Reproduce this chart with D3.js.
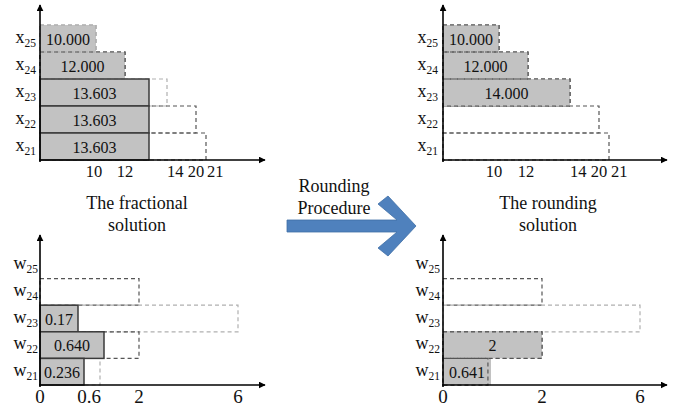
<!DOCTYPE html>
<html lang="en">
<head>
  <meta charset="UTF-8">
  <title>Rounding procedure</title>
  <script src="https://cdnjs.cloudflare.com/ajax/libs/d3/7.8.5/d3.min.js"></script>
  <style>
    body { margin: 0; background: #fff; }
    svg text { font-family: "Liberation Serif", "Times New Roman", serif; fill: #111; }
  </style>
</head>
<body>
  <script>
    // x rows (top panels)
    const xRows = ['25', '24', '23', '22', '21'];
    const xBounds = [10, 12, 14, 20, 21];
    const xFrac = [10, 12, 13.603, 13.603, 13.603];
    const xFracLabels = ['10.000', '12.000', '13.603', '13.603', '13.603'];
    const xRound = [10, 12, 14, 0, 0];
    const xRoundLabels = ['10.000', '12.000', '14.000', '', ''];
    const xTicks = [10, 12, 14, 20, 21];

    // w rows (bottom panels)
    const wRows = ['25', '24', '23', '22', '21'];
    const wBounds = [0, 2, 6, 2, 0.6];
    const wFrac = [0, 0, 0.17, 0.640, 0.236];
    const wFracLabels = ['', '', '0.17', '0.640', '0.236'];
    const wRound = [0, 0, 0, 2, 0.641];
    const wRoundLabels = ['', '', '', '2', '0.641'];
    const wTicks = [0, 0.6, 2, 6];

    const titles = [['The fractional', 'solution'], ['The rounding', 'solution']];
    const middleText = ['Rounding', 'Procedure'];

    const width = 682, height = 409;
    const svg = d3.select('body').append('svg')
      .attr('width', width)
      .attr('height', height);

    const defs = svg.append('defs');
    defs.append('marker')
      .attr('id', 'tip')
      .attr('viewBox', '0 0 10 10')
      .attr('refX', 9).attr('refY', 5)
      .attr('markerWidth', 7).attr('markerHeight', 7)
      .attr('markerUnits', 'userSpaceOnUse')
      .attr('orient', 'auto')
      .append('path').attr('d', 'M0,0 L10,5 L0,10 z').attr('fill', '#000');

    const fillGray = '#c2c2c2';

    // the diagram is schematic, so the value axes are piecewise
    const xScaleTop = d3.scaleLinear()
      .domain([0, 10, 12, 13.603, 14, 20, 21])
      .range([0, 56, 85, 109, 127, 156, 166]);
    const wScaleLeft = d3.scaleLinear()
      .domain([0, 0.17, 0.236, 0.6, 0.64, 2, 6])
      .range([0, 38, 44, 60, 64, 99, 198]);
    const wScaleRight = d3.scaleLinear()
      .domain([0, 0.641, 2, 6])
      .range([0, 48, 99, 197]);

    function drawPanel(opt) {
      const g = svg.append('g').attr('transform', `translate(${opt.x0},0)`);
      const x = opt.scale;
      const y = d3.scaleBand().domain(opt.rows).range(opt.yRange);

      // dashed bound boxes
      g.selectAll('rect.bound')
        .data(opt.rows.filter((d, i) => opt.bounds[i] > 0))
        .join('rect')
        .attr('class', 'bound')
        .attr('x', 0)
        .attr('y', d => y(d))
        .attr('width', d => x(opt.bounds[opt.rows.indexOf(d)]))
        .attr('height', y.bandwidth())
        .attr('fill', 'none')
        .attr('stroke', d => opt.light.includes(d) ? '#b0b0b0' : '#555')
        .attr('stroke-width', 1.2)
        .attr('stroke-dasharray', '4,3');

      // filled values
      const vals = opt.rows.map((d, i) => ({ row: d, v: opt.values[i], b: opt.bounds[i], label: opt.labels[i] }))
        .filter(d => d.v > 0);

      g.selectAll('rect.val')
        .data(vals)
        .join('rect')
        .attr('class', 'val')
        .attr('x', 0)
        .attr('y', d => y(d.row))
        .attr('width', d => x(d.v))
        .attr('height', y.bandwidth())
        .attr('fill', fillGray)
        .attr('stroke', d => d.v < d.b ? '#3a3a3a' : 'none')
        .attr('stroke-width', 1.5);

      // redraw dashes on top where the fill covers them
      g.selectAll('rect.cap')
        .data(vals.filter(d => d.v >= d.b))
        .join('rect')
        .attr('class', 'cap')
        .attr('x', 0)
        .attr('y', d => y(d.row))
        .attr('width', d => x(d.b))
        .attr('height', y.bandwidth())
        .attr('fill', 'none')
        .attr('stroke', d => opt.light.includes(d.row) ? '#a8a8a8' : '#555')
        .attr('stroke-width', 1.2)
        .attr('stroke-dasharray', '4,3');

      g.selectAll('text.val')
        .data(vals.filter(d => d.label))
        .join('text')
        .attr('class', 'val')
        .attr('x', d => x(d.v) / 2)
        .attr('y', d => y(d.row) + y.bandwidth() / 2 + 6)
        .attr('text-anchor', 'middle')
        .attr('font-size', 16)
        .text(d => d.label);

      // row labels with subscripts
      const lab = g.selectAll('text.row')
        .data(opt.rows)
        .join('text')
        .attr('class', 'row')
        .attr('x', opt.labelX)
        .attr('y', d => y(d) + y.bandwidth() / 2 + 4)
        .attr('text-anchor', 'end')
        .attr('font-size', 18);
      lab.append('tspan').text(opt.letter);
      lab.append('tspan').attr('dy', 4).attr('font-size', 11.5).text(d => d);

      // axes
      const yBottom = opt.yRange[1];
      g.append('line')
        .attr('x1', 0).attr('x2', 0)
        .attr('y1', yBottom + 2).attr('y2', opt.axisTop)
        .attr('stroke', '#000').attr('stroke-width', 1.6)
        .attr('marker-end', 'url(#tip)');
      g.append('line')
        .attr('x1', -1).attr('x2', opt.axisRight)
        .attr('y1', yBottom).attr('y2', yBottom)
        .attr('stroke', '#000').attr('stroke-width', 1.6)
        .attr('marker-end', 'url(#tip)');

      g.selectAll('text.tick')
        .data(opt.ticks)
        .join('text')
        .attr('class', 'tick')
        .attr('x', d => x(d) + (opt.nudge[d] || 0))
        .attr('y', yBottom + opt.tickDy)
        .attr('text-anchor', d => opt.startTicks.includes(d) ? 'start' : 'middle')
        .attr('font-size', opt.tickSize)
        .text(d => d);
    }

    const topRange = [25, 160];
    const botRange = [252, 385];

    drawPanel({ x0: 40, scale: xScaleTop, rows: xRows, yRange: topRange, bounds: xBounds,
      values: xFrac, labels: xFracLabels, letter: 'x', labelX: -4, light: ['25', '23'],
      axisTop: 5, axisRight: 225, ticks: xTicks, startTicks: [14, 21], nudge: { 10: -2, 21: 1 },
      tickDy: 17, tickSize: 16.5 });
    drawPanel({ x0: 443, scale: xScaleTop, rows: xRows, yRange: topRange, bounds: xBounds,
      values: xRound, labels: xRoundLabels, letter: 'x', labelX: -5, light: [],
      axisTop: 5, axisRight: 224, ticks: xTicks, startTicks: [14, 21], nudge: { 10: -5, 12: -2, 21: 2 },
      tickDy: 17, tickSize: 16.5 });
    drawPanel({ x0: 40, scale: wScaleLeft, rows: wRows, yRange: botRange, bounds: wBounds,
      values: wFrac, labels: wFracLabels, letter: 'w', labelX: -2, light: ['23', '21'],
      axisTop: 235, axisRight: 225, ticks: wTicks, startTicks: [], nudge: { 0.6: -11 },
      tickDy: 18, tickSize: 19 });
    drawPanel({ x0: 443, scale: wScaleRight, rows: wRows, yRange: botRange, bounds: wBounds,
      values: wRound, labels: wRoundLabels, letter: 'w', labelX: -3, light: ['23'],
      axisTop: 235, axisRight: 224, ticks: [0, 2, 6], startTicks: [], nudge: {},
      tickDy: 18, tickSize: 19 });

    // panel captions
    [137, 548].forEach((cx, i) => {
      svg.append('text')
        .attr('x', cx).attr('y', 209)
        .attr('text-anchor', 'middle')
        .attr('font-size', 18)
        .selectAll('tspan')
        .data(titles[i])
        .join('tspan')
        .attr('x', cx)
        .attr('dy', (d, j) => j === 0 ? 0 : 22)
        .text(d => d);
    });

    svg.append('text')
      .attr('x', 334).attr('y', 192)
      .attr('text-anchor', 'middle')
      .attr('font-size', 18)
      .selectAll('tspan')
      .data(middleText)
      .join('tspan')
      .attr('x', 334)
      .attr('dy', (d, j) => j === 0 ? 0 : 22)
      .text(d => d);

    // big blue arrow
    const arrowPts = [[287, 220], [397, 220], [378, 204], [388, 196], [416, 226],
      [388, 256], [378, 248], [397, 232], [287, 232]];
    svg.append('polygon')
      .attr('points', arrowPts.map(p => p.join(',')).join(' '))
      .attr('fill', '#4f81bd')
      .attr('stroke', '#3f6fa6')
      .attr('stroke-width', 0.8);
  </script>
</body>
</html>
